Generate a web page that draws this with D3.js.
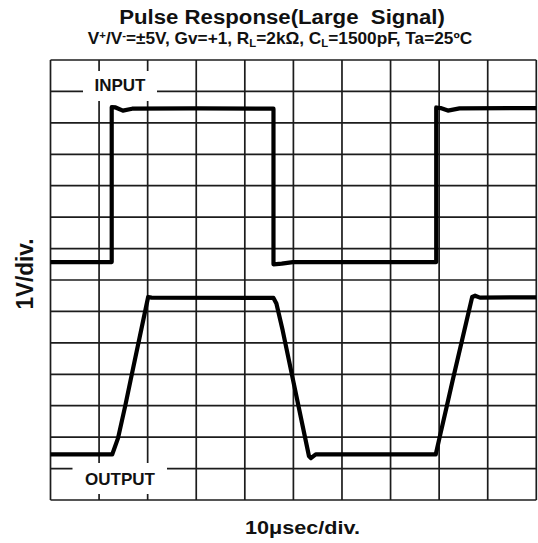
<!DOCTYPE html>
<html>
<head>
<meta charset="utf-8">
<script src="https://cdn.jsdelivr.net/npm/d3@7"></script>
<style>
  html, body { margin: 0; padding: 0; background: #fff; }
  svg { display: block; }
  text { font-family: "Liberation Sans", Arial, Helvetica, sans-serif; font-weight: bold; fill: #111; }
</style>
</head>
<body>
<svg id="chart" width="538" height="543"></svg>
<script>
// Scope settings: 10 µs per horizontal division, 1 V per vertical division
const timeTicks = d3.range(0, 101, 10);   // µs, 10 divisions
const voltTicks = d3.range(0, 15, 1);     // divisions (1 V each), 14 divisions

// Traces as [time µs, screen level in V/div from the bottom graticule line]
const inputTrace = [
  [0, 7.57], [12.6, 7.57], [12.6, 12.5], [13.4, 12.49], [14.9, 12.39], [16.8, 12.45],
  [30, 12.46], [45.9, 12.45], [45.9, 7.5], [47.6, 7.52], [49.9, 7.57],
  [79.4, 7.57], [79.4, 12.49], [80.3, 12.47], [81.8, 12.39], [84.2, 12.46], [100, 12.47]
];
const outputTrace = [
  [0, 1.45], [12.7, 1.45], [13.9, 1.97], [15.35, 2.97], [16.5, 3.82], [20.1, 6.46],
  [20.8, 6.44], [45.9, 6.43], [46.5, 6.25], [47.8, 5.39], [53.2, 1.4], [53.6, 1.33],
  [54.6, 1.45], [79.3, 1.45], [80.05, 1.96], [81.55, 2.97], [82.8, 3.82], [86.8, 6.46],
  [87.4, 6.5], [88.4, 6.44], [100, 6.45]
];

const titleText = "Pulse Response(Large  Signal)";
const xLabelText = "10\u03bcsec/div.";
const yLabelText = "1V/div.";
const inputLabel = "INPUT";
const outputLabel = "OUTPUT";

const svg = d3.select("#chart");
const plot = { left: 50.5, right: 536.3, top: 60, bottom: 500 };

const x = d3.scaleLinear().domain([0, 100]).range([plot.left, plot.right]);
const y = d3.scaleLinear().domain([0, 14]).range([plot.bottom, plot.top]);

// Graticule
const grid = svg.append("g").attr("stroke", "#1c1c1c").attr("stroke-width", 1.7);
grid.selectAll("line.v").data(timeTicks).join("line")
  .attr("class", "v")
  .attr("x1", d => x(d)).attr("x2", d => x(d))
  .attr("y1", y(0)).attr("y2", y(14));
grid.selectAll("line.h").data(voltTicks).join("line")
  .attr("class", "h")
  .attr("y1", d => y(d)).attr("y2", d => y(d))
  .attr("x1", x(0)).attr("x2", x(100));

// Channel labels sit on a white patch that interrupts the graticule
function channelLabel(label, cx, baseline, box) {
  svg.append("rect")
    .attr("x", box[0]).attr("y", box[1])
    .attr("width", box[2]).attr("height", box[3])
    .attr("fill", "#fff");
  svg.append("text")
    .attr("x", cx).attr("y", baseline)
    .attr("text-anchor", "middle")
    .attr("font-size", 17)
    .text(label);
}
channelLabel(inputLabel, 120, 91, [83, 71, 74, 30]);
channelLabel(outputLabel, 120, 484.5, [72.5, 463, 94.5, 31]);

// Traces
const line = d3.line().x(d => x(d[0])).y(d => y(d[1]));
svg.append("path").datum(inputTrace)
  .attr("d", line).attr("fill", "none")
  .attr("stroke", "#000").attr("stroke-width", 4.2)
  .attr("stroke-linejoin", "round");
svg.append("path").datum(outputTrace)
  .attr("d", line).attr("fill", "none")
  .attr("stroke", "#000").attr("stroke-width", 4.2)
  .attr("stroke-linejoin", "round");

// Stretch a text run horizontally to a given width around a centre point
function fitText(textSel, cx, baseline, width, rotate) {
  const w = textSel.node().getBBox().width;
  const s = width / w;
  textSel.attr("text-anchor", "middle")
    .attr("transform", `translate(${cx},${baseline})` + (rotate ? ` rotate(${rotate})` : "") + ` scale(${s},1)`);
}

// Title
const title = svg.append("text").attr("font-size", 20.5).attr("x", 0).attr("y", 0)
  .style("white-space", "pre").text(titleText);
fitText(title, 282, 24, 326);

// Subtitle with super/subscripts
const sub = svg.append("text").attr("font-size", 16).attr("x", 0).attr("y", 0);
const parts = [
  ["V", 0], ["+", -1], ["/V", 0], ["-", -1], ["=\u00b15V, Gv=+1, R", 0], ["L", 1],
  ["=2k\u03a9, C", 0], ["L", 1], ["=1500pF, Ta=25\u00baC", 0]
];
let shift = 0;
parts.forEach(([t, k]) => {
  const target = k === -1 ? -5 : k === 1 ? 3 : 0;
  sub.append("tspan")
    .attr("dy", target - shift)
    .attr("font-size", k === 0 ? 16 : 10.5)
    .text(t);
  shift = target;
});
fitText(sub, 280, 43.5, 385);

// Axis titles
const xl = svg.append("text").attr("font-size", 19).text(xLabelText);
fitText(xl, 302.5, 533.5, 115);

const yl = svg.append("text").attr("font-size", 24).text(yLabelText);
fitText(yl, 33, 274, 71, -90);
</script>
</body>
</html>
